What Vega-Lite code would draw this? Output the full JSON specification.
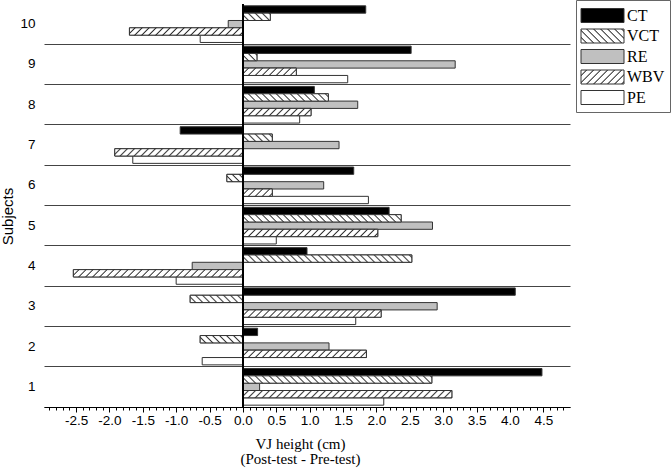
{
  "$schema": "https://vega.github.io/schema/vega-lite/v6.json",
  "autosize": {"type": "none"},
  "padding": {"left": 44, "top": 4, "right": 102, "bottom": 65},
  "width": 526,
  "height": 403,
  "background": "white",
  "config": {"view": {"stroke": null}},
  "params": [
    {"name": "hatch", "value": [
      {"offset":0,"color":"#fff"},{"offset":0.015,"color":"#fff"},{"offset":0.0205,"color":"#333"},
      {"offset":0.025,"color":"#fff"},{"offset":0.04,"color":"#fff"},{"offset":0.0455,"color":"#333"},
      {"offset":0.05,"color":"#fff"},{"offset":0.065,"color":"#fff"},{"offset":0.0705,"color":"#333"},
      {"offset":0.075,"color":"#fff"},{"offset":0.09,"color":"#fff"},{"offset":0.0955,"color":"#333"},
      {"offset":0.1,"color":"#fff"},{"offset":0.115,"color":"#fff"},{"offset":0.1205,"color":"#333"},
      {"offset":0.125,"color":"#fff"},{"offset":0.14,"color":"#fff"},{"offset":0.1455,"color":"#333"},
      {"offset":0.15,"color":"#fff"},{"offset":0.165,"color":"#fff"},{"offset":0.1705,"color":"#333"},
      {"offset":0.175,"color":"#fff"},{"offset":0.19,"color":"#fff"},{"offset":0.1955,"color":"#333"},
      {"offset":0.2,"color":"#fff"},{"offset":0.215,"color":"#fff"},{"offset":0.2205,"color":"#333"},
      {"offset":0.225,"color":"#fff"},{"offset":0.24,"color":"#fff"},{"offset":0.2455,"color":"#333"},
      {"offset":0.25,"color":"#fff"},{"offset":0.265,"color":"#fff"},{"offset":0.2705,"color":"#333"},
      {"offset":0.275,"color":"#fff"},{"offset":0.29,"color":"#fff"},{"offset":0.2955,"color":"#333"},
      {"offset":0.3,"color":"#fff"},{"offset":0.315,"color":"#fff"},{"offset":0.3205,"color":"#333"},
      {"offset":0.325,"color":"#fff"},{"offset":0.34,"color":"#fff"},{"offset":0.3455,"color":"#333"},
      {"offset":0.35,"color":"#fff"},{"offset":0.365,"color":"#fff"},{"offset":0.3705,"color":"#333"},
      {"offset":0.375,"color":"#fff"},{"offset":0.39,"color":"#fff"},{"offset":0.3955,"color":"#333"},
      {"offset":0.4,"color":"#fff"},{"offset":0.415,"color":"#fff"},{"offset":0.4205,"color":"#333"},
      {"offset":0.425,"color":"#fff"},{"offset":0.44,"color":"#fff"},{"offset":0.4455,"color":"#333"},
      {"offset":0.45,"color":"#fff"},{"offset":0.465,"color":"#fff"},{"offset":0.4705,"color":"#333"},
      {"offset":0.475,"color":"#fff"},{"offset":0.49,"color":"#fff"},{"offset":0.4955,"color":"#333"},
      {"offset":0.5,"color":"#fff"},{"offset":0.515,"color":"#fff"},{"offset":0.5205,"color":"#333"},
      {"offset":0.525,"color":"#fff"},{"offset":0.54,"color":"#fff"},{"offset":0.5455,"color":"#333"},
      {"offset":0.55,"color":"#fff"},{"offset":0.565,"color":"#fff"},{"offset":0.5705,"color":"#333"},
      {"offset":0.575,"color":"#fff"},{"offset":0.59,"color":"#fff"},{"offset":0.5955,"color":"#333"},
      {"offset":0.6,"color":"#fff"},{"offset":0.615,"color":"#fff"},{"offset":0.6205,"color":"#333"},
      {"offset":0.625,"color":"#fff"},{"offset":0.64,"color":"#fff"},{"offset":0.6455,"color":"#333"},
      {"offset":0.65,"color":"#fff"},{"offset":0.665,"color":"#fff"},{"offset":0.6705,"color":"#333"},
      {"offset":0.675,"color":"#fff"},{"offset":0.69,"color":"#fff"},{"offset":0.6955,"color":"#333"},
      {"offset":0.7,"color":"#fff"},{"offset":0.715,"color":"#fff"},{"offset":0.7205,"color":"#333"},
      {"offset":0.725,"color":"#fff"},{"offset":0.74,"color":"#fff"},{"offset":0.7455,"color":"#333"},
      {"offset":0.75,"color":"#fff"},{"offset":0.765,"color":"#fff"},{"offset":0.7705,"color":"#333"},
      {"offset":0.775,"color":"#fff"},{"offset":0.79,"color":"#fff"},{"offset":0.7955,"color":"#333"},
      {"offset":0.8,"color":"#fff"},{"offset":0.815,"color":"#fff"},{"offset":0.8205,"color":"#333"},
      {"offset":0.825,"color":"#fff"},{"offset":0.84,"color":"#fff"},{"offset":0.8455,"color":"#333"},
      {"offset":0.85,"color":"#fff"},{"offset":0.865,"color":"#fff"},{"offset":0.8705,"color":"#333"},
      {"offset":0.875,"color":"#fff"},{"offset":0.89,"color":"#fff"},{"offset":0.8955,"color":"#333"},
      {"offset":0.9,"color":"#fff"},{"offset":0.915,"color":"#fff"},{"offset":0.9205,"color":"#333"},
      {"offset":0.925,"color":"#fff"},{"offset":0.94,"color":"#fff"},{"offset":0.9455,"color":"#333"},
      {"offset":0.95,"color":"#fff"},{"offset":0.965,"color":"#fff"},{"offset":0.9705,"color":"#333"},
      {"offset":0.975,"color":"#fff"},{"offset":0.99,"color":"#fff"},{"offset":0.9955,"color":"#333"},
      {"offset":1,"color":"#fff"}
    ]}
  ],
  "data": {"values": [
    {"s":1,"c":"CT","v":4.48},{"s":1,"c":"VCT","v":2.83},{"s":1,"c":"RE","v":0.25},{"s":1,"c":"WBV","v":3.13},{"s":1,"c":"PE","v":2.11},
    {"s":2,"c":"CT","v":0.22},{"s":2,"c":"VCT","v":-0.64},{"s":2,"c":"RE","v":1.29},{"s":2,"c":"WBV","v":1.85},{"s":2,"c":"PE","v":-0.61},
    {"s":3,"c":"CT","v":4.08},{"s":3,"c":"VCT","v":-0.79},{"s":3,"c":"RE","v":2.91},{"s":3,"c":"WBV","v":2.07},{"s":3,"c":"PE","v":1.69},
    {"s":4,"c":"CT","v":0.96},{"s":4,"c":"VCT","v":2.53},{"s":4,"c":"RE","v":-0.76},{"s":4,"c":"WBV","v":-2.54},{"s":4,"c":"PE","v":-1.0},
    {"s":5,"c":"CT","v":2.19},{"s":5,"c":"VCT","v":2.37},{"s":5,"c":"RE","v":2.84},{"s":5,"c":"WBV","v":2.02},{"s":5,"c":"PE","v":0.5},
    {"s":6,"c":"CT","v":1.66},{"s":6,"c":"VCT","v":-0.24},{"s":6,"c":"RE","v":1.21},{"s":6,"c":"WBV","v":0.44},{"s":6,"c":"PE","v":1.88},
    {"s":7,"c":"CT","v":-0.94},{"s":7,"c":"VCT","v":0.44},{"s":7,"c":"RE","v":1.44},{"s":7,"c":"WBV","v":-1.92},{"s":7,"c":"PE","v":-1.65},
    {"s":8,"c":"CT","v":1.07},{"s":8,"c":"VCT","v":1.28},{"s":8,"c":"RE","v":1.72},{"s":8,"c":"WBV","v":1.02},{"s":8,"c":"PE","v":0.85},
    {"s":9,"c":"CT","v":2.52},{"s":9,"c":"VCT","v":0.21},{"s":9,"c":"RE","v":3.18},{"s":9,"c":"WBV","v":0.8},{"s":9,"c":"PE","v":1.57},
    {"s":10,"c":"CT","v":1.84},{"s":10,"c":"VCT","v":0.41},{"s":10,"c":"RE","v":-0.22},{"s":10,"c":"WBV","v":-1.7},{"s":10,"c":"PE","v":-0.64}
  ]},
  "resolve": {"axis": {"x": "independent"}},
  "layer": [
    {
      "mark": {"type": "bar", "stroke": "#333", "strokeWidth": 1, "opacity": 1},
      "encoding": {
        "y": {"field": "s", "type": "ordinal", "sort": [10,9,8,7,6,5,4,3,2,1],
          "scale": {"paddingInner": 0, "paddingOuter": 0},
          "axis": {"orient": "left", "domain": false, "ticks": false, "bandPosition": 1,
            "grid": true, "gridColor": "#444", "gridWidth": 1, "gridOpacity": 1,
            "labelFont": "Liberation Sans", "labelFontSize": 13.5, "labelColor": "#000", "labelPadding": 9, "labelAngle": 0,
            "title": "Subjects", "titleFont": "Liberation Sans", "titleFontSize": 15, "titleFontWeight": "normal", "titleColor": "#000",
            "titleX": -29, "titleY": 212, "titleBaseline": "bottom", "titleAngle": -90, "titleAlign": "center"}},
        "yOffset": {"field": "c", "type": "nominal", "sort": ["CT","VCT","RE","WBV","PE"],
          "scale": {"domain": ["CT","VCT","RE","WBV","PE"], "paddingInner": 0, "paddingOuter": 0.25}},
        "x": {"field": "v", "type": "quantitative", "stack": null,
          "scale": {"domain": [-2.98, 4.9], "nice": false, "zero": false},
          "axis": {"orient": "bottom", "values": [-2.5,-2,-1.5,-1,-0.5,0,0.5,1,1.5,2,2.5,3,3.5,4,4.5],
            "labelExpr": "datum.value < 0 ? '-' + format(-datum.value, '.1f') : format(datum.value, '.1f')",
            "grid": false, "domainColor": "#000", "domainWidth": 1, "tickColor": "#000", "tickSize": 5, "tickWidth": 1,
            "labelFont": "Liberation Sans", "labelFontSize": 13.5, "labelColor": "#000", "labelPadding": 1,
            "title": ["VJ height (cm)", "(Post-test - Pre-test)"], "titleFont": "Liberation Serif", "titleFontSize": 15,
            "titleFontWeight": "normal", "titleColor": "#000", "titleLineHeight": 15, "titlePadding": 10, "titleX": 256}},
        "color": {"field": "c", "type": "nominal",
          "scale": {"domain": ["CT","VCT","RE","WBV","PE"],
            "range": ["#000000",
              {"expr": "{gradient:'linear',x1:0,y1:1,x2:5.887,y2:-0.917,stops:hatch}"},
              "#c0c0c0",
              {"expr": "{gradient:'linear',x1:0,y1:0,x2:5.887,y2:1.917,stops:hatch}"},
              "#ffffff"]},
          "legend": {"orient": "none", "legendX": 532, "legendY": -4, "title": null,
            "symbolType": "M-2.15,-0.7H2.15V0.7H-2.15Z", "symbolSize": 400, "symbolOffset": 11,
            "symbolStrokeColor": "#333", "symbolStrokeWidth": 1, "symbolOpacity": 1,
            "labelFont": "Liberation Serif", "labelFontSize": 16, "labelColor": "#000", "labelOffset": 14,
            "rowPadding": 0.5, "padding": 5, "strokeColor": "#666", "fillColor": "#fff"}}
      }
    },
    {
      "transform": [{"filter": "datum.c === 'VCT' || datum.c === 'WBV'"}],
      "mark": {"type": "bar", "stroke": "#333", "strokeWidth": 1, "opacity": 1,
        "fill": {"expr": "datum.c === 'VCT' ? {gradient:'linear',x1:0,y1:1,x2:280*abs(scale('x',datum.v)-scale('x',0))/(pow(scale('x',datum.v)-scale('x',0),2)+pow(bandwidth('yOffset'),2)),y2:1-280*bandwidth('yOffset')/(pow(scale('x',datum.v)-scale('x',0),2)+pow(bandwidth('yOffset'),2)),stops:hatch} : {gradient:'linear',x1:0,y1:0,x2:280*abs(scale('x',datum.v)-scale('x',0))/(pow(scale('x',datum.v)-scale('x',0),2)+pow(bandwidth('yOffset'),2)),y2:280*bandwidth('yOffset')/(pow(scale('x',datum.v)-scale('x',0),2)+pow(bandwidth('yOffset'),2)),stops:hatch}"}},
      "encoding": {
        "y": {"field": "s", "type": "ordinal", "sort": [10,9,8,7,6,5,4,3,2,1]},
        "yOffset": {"field": "c", "type": "nominal", "sort": ["CT","VCT","RE","WBV","PE"],
          "scale": {"domain": ["CT","VCT","RE","WBV","PE"]}},
        "x": {"field": "v", "type": "quantitative", "stack": null, "axis": null}
      }
    },
    {
      "mark": {"type": "rule", "color": "#000", "strokeWidth": 1},
      "encoding": {
        "x": {"datum": 0, "type": "quantitative",
          "axis": {"orient": "bottom", "domain": false, "labels": false, "title": null, "grid": false,
            "tickColor": "#000", "tickSize": 3, "tickWidth": 1,
            "values": [-2.9,-2.8,-2.7,-2.6,-2.4,-2.3,-2.2,-2.1,-1.9,-1.8,-1.7,-1.6,-1.4,-1.3,-1.2,-1.1,-0.9,-0.8,-0.7,-0.6,-0.4,-0.3,-0.2,-0.1,0.1,0.2,0.3,0.4,0.6,0.7,0.8,0.9,1.1,1.2,1.3,1.4,1.6,1.7,1.8,1.9,2.1,2.2,2.3,2.4,2.6,2.7,2.8,2.9,3.1,3.2,3.3,3.4,3.6,3.7,3.8,3.9,4.1,4.2,4.3,4.4,4.6,4.7,4.8]}}
      }
    }
  ]
}
